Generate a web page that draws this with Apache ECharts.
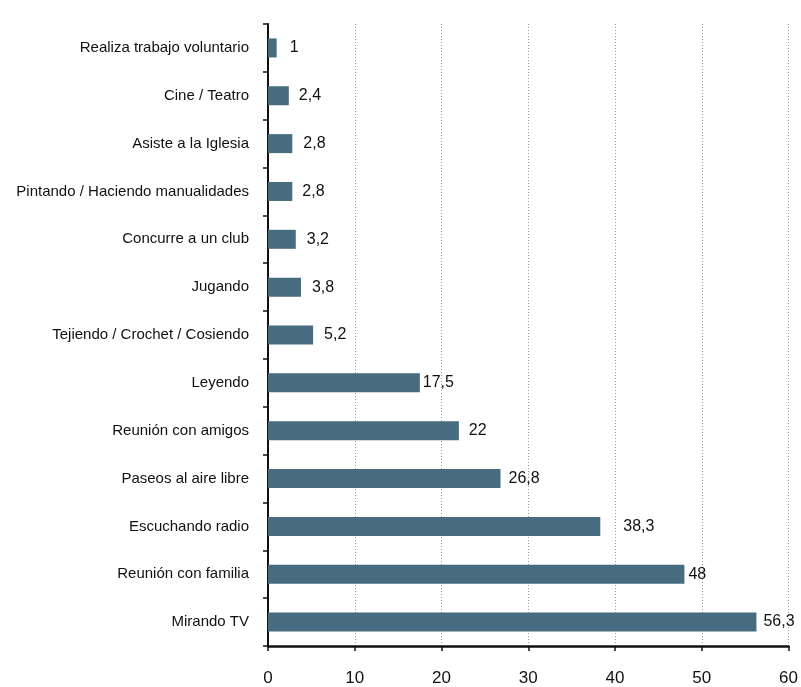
<!DOCTYPE html>
<html>
<head>
<meta charset="utf-8">
<script src="https://cdn.jsdelivr.net/npm/echarts@6/dist/echarts.min.js"></script>
<style>
  html, body { margin: 0; padding: 0; background: #fff; }
  #chart { width: 801px; height: 687px; }
</style>
</head>
<body>
<div id="chart"></div>
<script>
const categories = [
  'Realiza trabajo voluntario',
  'Cine / Teatro',
  'Asiste a la Iglesia',
  'Pintando / Haciendo manualidades',
  'Concurre a un club',
  'Jugando',
  'Tejiendo / Crochet / Cosiendo',
  'Leyendo',
  'Reunión con amigos',
  'Paseos al aire libre',
  'Escuchando radio',
  'Reunión con familia',
  'Mirando TV'
];
const values = [1, 2.4, 2.8, 2.8, 3.2, 3.8, 5.2, 17.5, 22, 26.8, 38.3, 48, 56.3];
const xTicks = [0, 10, 20, 30, 40, 50, 60];

// label gap after each bar, as in the original layout
const labelGaps = [13, 10, 11, 10, 11, 11, 11, 3, 10, 8, 23, 4, 7];

const FONT = '"Liberation Sans", Arial, sans-serif';

const chart = echarts.init(document.getElementById('chart'));
chart.setOption({
  animation: false,
  grid: { left: 268, right: 8, top: 24, bottom: 40, containLabel: false },
  xAxis: {
    type: 'value',
    min: xTicks[0],
    max: xTicks[xTicks.length - 1],
    interval: 10,
    axisLine: { show: true, lineStyle: { color: '#111', width: 2.5 } },
    axisTick: { show: true, length: 5, lineStyle: { color: '#111', width: 1.5 } },
    axisLabel: { color: '#111', fontSize: 17, fontFamily: FONT, margin: 24 },
    splitLine: { show: true, lineStyle: { color: '#999', type: [1, 2], width: 1 } }
  },
  yAxis: {
    type: 'category',
    inverse: true,
    data: categories,
    axisLine: { show: true, lineStyle: { color: '#111', width: 2 } },
    axisTick: { show: true, length: 5, alignWithLabel: false, lineStyle: { color: '#111', width: 1.5 } },
    axisLabel: { color: '#111', fontSize: 15, fontFamily: FONT, margin: 19 },
    splitLine: { show: false }
  },
  series: [{
    type: 'bar',
    barWidth: 19,
    itemStyle: { color: '#476c7f' },
    data: values.map((v, i) => ({
      value: v,
      label: { distance: labelGaps[i] }
    })),
    label: {
      show: true,
      position: 'right',
      color: '#111',
      fontSize: 16,
      fontFamily: FONT,
      formatter: p => String(p.value).replace('.', ',')
    }
  }]
});
</script>
</body>
</html>
